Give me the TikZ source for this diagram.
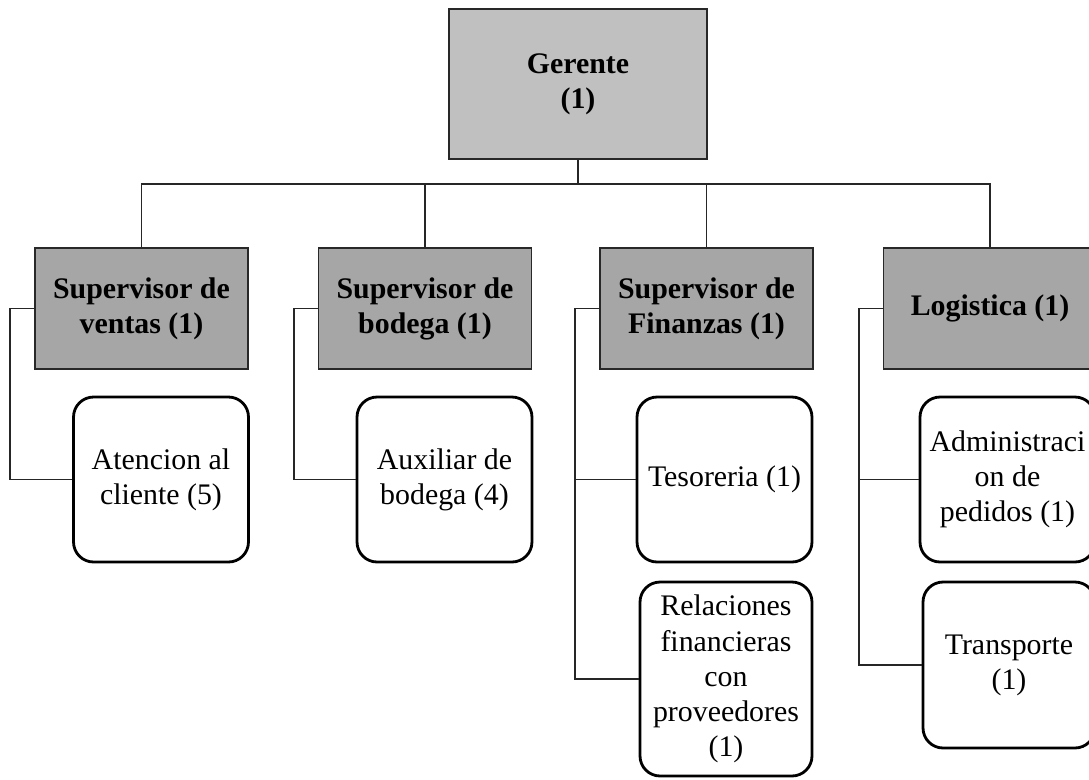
\documentclass[tikz,border=0pt]{standalone}
\usepackage{fontspec}
\setmainfont{Liberation Serif}
\usetikzlibrary{positioning}
\definecolor{gerfill}{RGB}{192,192,192}
\definecolor{supfill}{RGB}{166,166,166}
\definecolor{boxline}{RGB}{40,40,40}

\begin{document}
\begin{tikzpicture}[x=0.02cm, y=-0.02cm,
    every node/.style={font=\fontsize{17}{20}\selectfont, align=center},
    ger/.style={draw=boxline, line width=0.9pt, fill=gerfill, minimum width=5.16cm, minimum height=3cm,
                font=\fontsize{17}{20}\selectfont\bfseries},
    sup/.style={draw=boxline, line width=0.9pt, fill=supfill, minimum width=4.26cm, minimum height=2.42cm,
                font=\fontsize{17}{20}\selectfont\bfseries},
    job/.style={draw, line width=1.6pt, rounded corners=0.4cm, fill=white, inner sep=1pt,
                minimum width=3.5cm, minimum height=3.3cm},
    link/.style={line width=0.9pt, draw=black!85}]
    \useasboundingbox (0,0) rectangle (1089,779);

    % Top - manager
    \node[ger] (ger) at (578,84) {Gerente\\(1)};
    \coordinate (bus) at (578,184);

    % Row 1 - supervisors
    \node[sup] (sven) at (141.5,308.5) {Supervisor de\\ventas (1)};
    \node[sup] (sbod) at (425,308.5) {Supervisor de\\bodega (1)};
    \node[sup] (sfin) at (706.5,308.5) {Supervisor de\\Finanzas (1)};
    \node[sup] (slog) at (990,308.5) {Logistica (1)};

    \draw[link] (ger.south) -- (bus);
    \foreach \s in {sven,sbod,sfin,slog} {
        \draw[link] (bus) -| (\s.north);
    }

    % Row 2 - staff under each supervisor
    \node[job] (aten) at (161,479.5) {Atencion al\\cliente (5)};
    \node[job] (aux) at (444.5,479.5) {Auxiliar de\\bodega (4)};
    \node[job] (teso) at (724.5,479.5) {Tesoreria (1)};
    \node[job] (admin) at (1007.5,479.5) {Administraci\\on de\\pedidos (1)};

    % Row 3
    \node[job, minimum width=3.44cm, minimum height=3.88cm] (rel) at (726,679) {Relaciones\\financieras\\con\\proveedores\\(1)};
    \node[job, minimum width=3.44cm, minimum height=3.32cm] (trans) at (1009,665) {Transporte\\(1)};

    % Side brackets
    \draw[link] (sven.west) -- ++(-24,0) |- (aten.west);
    \draw[link] (sbod.west) -- ++(-24,0) |- (aux.west);
    \draw[link] (sfin.west) -- ++(-24,0) |- (teso.west);
    \draw[link] (sfin.west) -- ++(-24,0) |- (rel.west);
    \draw[link] (slog.west) -- ++(-24,0) |- (admin.west);
    \draw[link] (slog.west) -- ++(-24,0) |- (trans.west);
\end{tikzpicture}
\end{document}
